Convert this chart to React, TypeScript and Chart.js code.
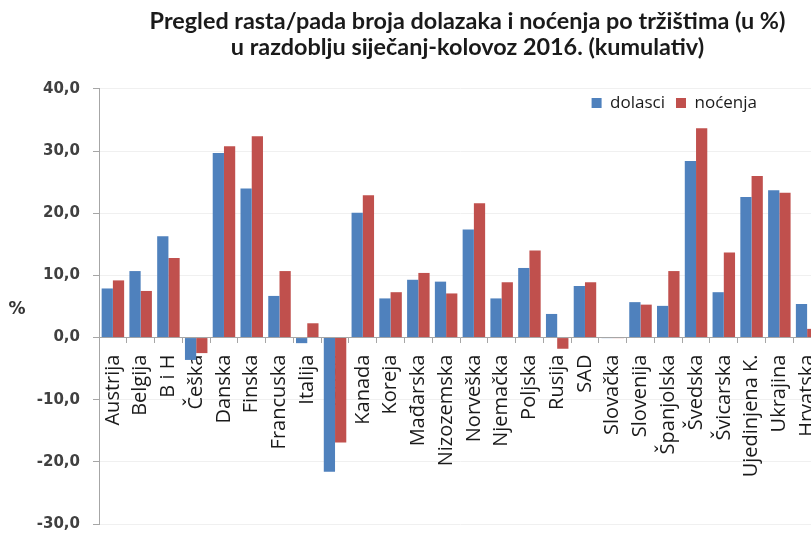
import React, { useEffect, useRef } from "react";
import { Chart, registerables } from "chart.js";

Chart.register(...registerables);

const titleLines = [
  "Pregled rasta/pada broja dolazaka i noćenja po tržištima (u %)",
  "u razdoblju siječanj-kolovoz 2016. (kumulativ)",
];

const categories = [
  "Austrija", "Belgija", "B i H", "Češka", "Danska", "Finska", "Francuska",
  "Italija", "Japan", "Kanada", "Koreja", "Mađarska", "Nizozemska", "Norveška",
  "Njemačka", "Poljska", "Rusija", "SAD", "Slovačka", "Slovenija", "Španjolska",
  "Švedska", "Švicarska", "Ujedinjena K.", "Ukrajina", "Hrvatska",
];

const dolasci = [
  7.9, 10.7, 16.3, -3.6, 29.7, 24.0, 6.7, -0.9, -21.6, 20.1, 6.3, 9.3, 9.0,
  17.4, 6.3, 11.2, 3.8, 8.3, -0.1, 5.7, 5.1, 28.4, 7.3, 22.6, 23.7, 5.4,
];

const nocenja = [
  9.2, 7.5, 12.8, -2.5, 30.8, 32.4, 10.7, 2.3, -16.9, 22.9, 7.3, 10.4, 7.1,
  21.6, 8.9, 14.0, -1.8, 8.9, -0.1, 5.3, 10.7, 33.7, 13.7, 26.0, 23.3, 1.4,
];

const seriesNames = ["dolasci", "noćenja"];
const yAxisLabel = "%";
const yMin = -30;
const yMax = 40;
const yStep = 10;

const fmt = (v: number) => v.toFixed(1).replace(".", ",");

export default function App() {
  const ref = useRef<HTMLCanvasElement | null>(null);

  useEffect(() => {
    if (!ref.current) return;

    const overlayPlugin = {
      id: "overlayPlugin",
      afterInit(chart: any) {
        const lg = chart.legend;
        if (lg && !lg.__patched) {
          const orig = lg.fit.bind(lg);
          lg.fit = function () {
            orig();
            lg.height = 0;
          };
          lg.__patched = true;
        }
      },
      afterLayout(chart: any) {
        const ca = chart.chartArea;
        const t = chart.titleBlock;
        if (t) {
          t.left += 7.5;
          t.right += 7.5;
        }
        const lg = chart.legend;
        if (lg) {
          lg.right = ca.right - 53;
          lg.top = ca.top - 5.5;
          lg.bottom = lg.top + 34;
          lg.height = 34;
        }
      },
      afterDraw(chart: any) {
        const ca = chart.chartArea;
        const ctx = chart.ctx;
        ctx.save();
        ctx.font = "bold 17px 'DejaVu Sans'";
        ctx.fillStyle = "#333333";
        ctx.textAlign = "center";
        ctx.textBaseline = "middle";
        ctx.fillText(yAxisLabel, 17, (ca.top + ca.bottom) / 2 + 3);
        ctx.restore();
      },
    };

    const chart = new Chart(ref.current, {
      type: "bar",
      data: {
        labels: categories,
        datasets: [
          {
            label: seriesNames[0],
            data: dolasci,
            backgroundColor: "#4F81BD",
            borderWidth: 0,
          },
          {
            label: seriesNames[1],
            data: nocenja,
            backgroundColor: "#C0504D",
            borderWidth: 0,
          },
        ],
      },
      options: {
        animation: false,
        responsive: false,
        maintainAspectRatio: false,
        layout: { padding: { left: 0, right: 9, top: 0, bottom: 11 } },
        datasets: {
          bar: { categoryPercentage: 0.81, barPercentage: 1.0 },
        } as any,
        plugins: {
          title: {
            display: true,
            text: titleLines,
            fullSize: false,
            color: "#1a1a1a",
            font: { family: "Lato", size: 23.4, weight: "bold", lineHeight: 1.13 },
            padding: { top: 8, bottom: 28.1 },
          },
          legend: {
            display: true,
            position: "top",
            align: "end",
            labels: {
              boxWidth: 10,
              boxHeight: 10,
              padding: 11,
              color: "#1a1a1a",
              font: { family: "Open Sans", size: 17 },
            },
          },
          tooltip: { enabled: false },
        },
        scales: {
          x: {
            position: { y: 0 } as any,
            z: 1,
            grid: {
              display: true,
              drawOnChartArea: false,
              offset: true,
              tickLength: 5,
              tickColor: "#a6a6a6",
            },
            border: { display: true, color: "#a6a6a6", width: 1 },
            ticks: {
              autoSkip: false,
              maxRotation: 90,
              minRotation: 90,
              padding: 12,
              color: "#1a1a1a",
              font: { family: "Open Sans", size: 20 },
            },
            afterFit(scale: any) {
              scale.height = 0;
              scale.paddingLeft = 0;
              scale.paddingRight = 0;
            },
          },
          y: {
            min: yMin,
            max: yMax,
            grid: {
              color: "#f0f0f0",
              tickColor: "#a6a6a6",
              tickLength: 6,
            },
            border: { display: true, color: "#a6a6a6", width: 1 },
            ticks: {
              stepSize: yStep,
              padding: 13,
              color: "#404040",
              font: { family: "DejaVu Sans", size: 15, weight: "bold" },
              callback: (v: any) => fmt(Number(v)),
            },
            afterFit(scale: any) {
              scale.width = 99;
              scale.paddingTop = 0;
              scale.paddingBottom = 0;
            },
          },
        },
      },
      plugins: [overlayPlugin],
    });

    return () => chart.destroy();
  }, []);

  return (
    <div
      style={{
        position: "absolute",
        left: 0,
        top: 0,
        width: 811,
        height: 535,
        overflow: "hidden",
        background: "#ffffff",
      }}
    >
      <canvas ref={ref} width={830} height={535} style={{ width: 830, height: 535, display: "block" }} />
    </div>
  );
}
